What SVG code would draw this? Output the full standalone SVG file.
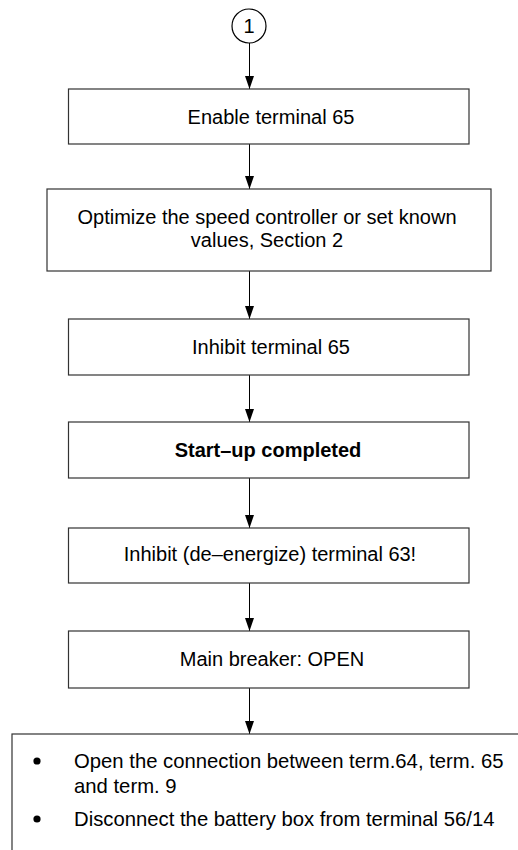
<svg xmlns="http://www.w3.org/2000/svg" width="518" height="850" viewBox="0 0 518 850">
<style>
.box{fill:#fff;stroke:#333;stroke-width:1.2}
.t{font-family:"Liberation Sans",Arial,sans-serif;font-size:20px;fill:#000;text-anchor:middle}
.tl{font-family:"Liberation Sans",Arial,sans-serif;font-size:20.3px;fill:#000}
.b{font-weight:bold}
.c{fill:none;stroke:#000;stroke-width:1}
</style>
<defs>
<marker id="ah" markerWidth="13" markerHeight="9" refX="13" refY="4.5" orient="auto" markerUnits="userSpaceOnUse" viewBox="0 0 13 9">
<path d="M0,0 L13,4.5 L0,9 Z" fill="#000"/>
</marker>
</defs>
<g id="connectors">
<path class="c" d="M249.5,43 V89" marker-end="url(#ah)"/>
<path class="c" d="M249.5,144 V189" marker-end="url(#ah)"/>
<path class="c" d="M249.5,271 V319" marker-end="url(#ah)"/>
<path class="c" d="M249.5,375 V422" marker-end="url(#ah)"/>
<path class="c" d="M249.5,478 V528" marker-end="url(#ah)"/>
<path class="c" d="M249.5,583 V631" marker-end="url(#ah)"/>
<path class="c" d="M249.5,688 V734" marker-end="url(#ah)"/>
</g>
<g id="start">
<circle cx="249" cy="26" r="17" fill="#fff" stroke="#000" stroke-width="1.2"/>
<text class="t" x="249" y="33">1</text>
</g>
<g id="n1">
<rect class="box" x="68.5" y="89" width="400.5" height="55"/>
<text class="t" x="271" y="124">Enable terminal 65</text>
</g>
<g id="n2">
<rect class="box" x="47" y="189" width="444" height="82"/>
<text class="t" x="267" y="224">Optimize the speed controller or set known</text>
<text class="t" x="267" y="247">values, Section 2</text>
</g>
<g id="n3">
<rect class="box" x="68.5" y="319" width="400.5" height="56"/>
<text class="t" x="271" y="354">Inhibit terminal 65</text>
</g>
<g id="n4">
<rect class="box" x="68.5" y="422" width="400.5" height="56"/>
<text class="t b" x="268" y="457">Start–up completed</text>
</g>
<g id="n5">
<rect class="box" x="68.5" y="528" width="400.5" height="55"/>
<text class="t" x="270" y="561">Inhibit (de–energize) terminal 63!</text>
</g>
<g id="n6">
<rect class="box" x="68.5" y="631" width="400.5" height="57"/>
<text class="t" x="272" y="666">Main breaker: OPEN</text>
</g>
<g id="n7">
<rect class="box" x="12" y="734" width="530" height="140"/>
<circle cx="37" cy="761" r="3.6" fill="#000"/>
<text class="tl" x="74" y="768">Open the connection between term.64, term. 65</text>
<text class="tl" x="74" y="793">and term. 9</text>
<circle cx="37" cy="819" r="3.6" fill="#000"/>
<text class="tl" x="74" y="826">Disconnect the battery box from terminal 56/14</text>
</g>
</svg>
